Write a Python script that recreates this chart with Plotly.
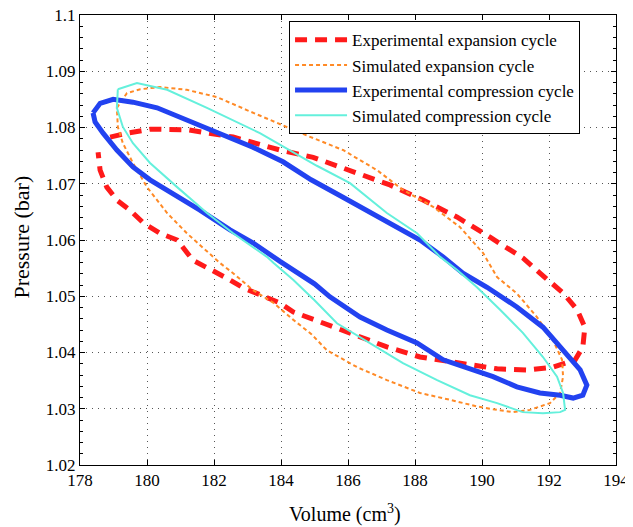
import plotly.graph_objects as go

# Experimental expansion cycle (red dashed)
exp_exp_v = [178.9, 179.4, 180.1, 181.2, 182.57, 183.97, 184.96, 186.06, 187.25, 188.24, 189.25, 190.24,
             191.22, 191.73, 192.42, 192.84, 193.07, 193.01, 192.78, 192.12, 191.34, 190.45, 189.34,
             188.15, 187.16, 186.06, 185.07, 184.37, 183.97, 183.37, 182.87, 182.39, 181.79, 181.37,
             180.9, 180.39, 179.9, 179.49, 179.1, 178.8, 178.6, 178.54]
exp_exp_p = [1.0783, 1.079, 1.0797, 1.0796, 1.0783, 1.0760, 1.0747, 1.0724, 1.0698, 1.0671, 1.0641, 1.0605,
             1.0568, 1.0541, 1.0506, 1.0476, 1.0445, 1.041, 1.0387, 1.0374, 1.0369, 1.0371, 1.0381,
             1.0392, 1.041, 1.0435, 1.0458, 1.0472, 1.0488, 1.0502, 1.0515, 1.0532, 1.0552, 1.0564,
             1.06, 1.0612, 1.063, 1.0653, 1.0671, 1.0694, 1.0724, 1.0756]

# Simulated expansion cycle (orange dotted)
sim_exp_v = [179.1, 179.4, 179.8, 180.39, 181.19, 182.09, 182.98, 183.88, 184.8, 185.85, 186.87, 187.64,
             188.54, 189.34, 190.03, 190.45, 191.04, 191.64, 192.12, 192.39, 192.42, 192.33, 192.03,
             191.43, 190.93, 190.45, 189.85, 189.04, 188.15, 187.16, 186.27, 185.37, 184.9, 184.37,
             183.78, 183.16, 182.57, 182.18, 181.97, 181.19, 180.6, 180.0, 179.58, 179.28, 179.13, 179.1]
sim_exp_p = [1.0835, 1.0861, 1.0868, 1.0872, 1.0867, 1.0854, 1.0831, 1.0808, 1.0785, 1.076, 1.0724, 1.0689,
             1.0659, 1.0623, 1.0577, 1.0534, 1.0505, 1.0463, 1.0422, 1.0387, 1.0357, 1.0328, 1.031,
             1.0298, 1.0294, 1.0298, 1.0304, 1.0316, 1.0328, 1.0351, 1.0374, 1.0404, 1.0433, 1.0458,
             1.0488, 1.0511, 1.0541, 1.0559, 1.057, 1.0612, 1.0648, 1.0694, 1.0737, 1.0772, 1.0801, 1.0835]

# Experimental compression cycle (blue solid, thick)
exp_comp_v = [178.39, 178.6, 178.99, 179.58, 180.3, 181.19, 182.18, 183.16, 184.06, 184.9, 185.85, 187.25,
              188.15, 188.84, 189.43, 190.15, 191.04, 191.82, 192.42, 192.93, 193.13, 193.01, 192.72,
              192.33, 191.73, 191.04, 190.33, 189.55, 188.84, 188.06, 187.16, 186.36, 185.46, 185.0,
              184.57, 183.97, 183.16, 182.48, 181.58, 180.78, 180.09, 179.58, 179.1, 178.69, 178.45, 178.39]
exp_comp_p = [1.0826, 1.0843, 1.085, 1.0845, 1.0835, 1.0813, 1.079, 1.0765, 1.0739, 1.0707, 1.0676, 1.063,
              1.06, 1.057, 1.0541, 1.0516, 1.0481, 1.0445, 1.0404, 1.0369, 1.0342, 1.0324, 1.0319,
              1.0324, 1.0328, 1.0339, 1.0357, 1.0372, 1.0387, 1.0417, 1.044, 1.0463, 1.0499, 1.0522,
              1.0538, 1.0562, 1.0595, 1.0618, 1.0653, 1.0683, 1.0707, 1.073, 1.076, 1.079, 1.081, 1.0826]

# Simulated compression cycle (aquamarine solid, thin)
sim_comp_v = [179.13, 179.7, 180.6, 181.79, 183.37, 184.27, 185.07, 186.06, 187.16, 188.06, 188.75, 189.25,
              189.85, 190.54, 191.22, 191.82, 192.24, 192.42, 192.48, 192.33, 191.82, 191.22, 190.45,
              189.64, 188.66, 187.64, 186.66, 185.67, 185.0, 184.37, 183.78, 183.58, 182.57, 181.79,
              180.9, 180.09, 179.58, 179.28, 179.1, 179.13]
sim_comp_p = [1.0868, 1.0879, 1.0867, 1.0835, 1.079, 1.076, 1.0732, 1.0701, 1.0648, 1.0612, 1.057, 1.0547,
              1.0516, 1.0476, 1.0435, 1.0392, 1.0357, 1.0328, 1.0298, 1.0294, 1.0292, 1.0294, 1.031,
              1.0324, 1.0351, 1.0381, 1.0417, 1.0452, 1.0493, 1.0529, 1.0559, 1.057, 1.0612, 1.0648,
              1.0694, 1.0737, 1.0772, 1.0801, 1.0835, 1.0868]

x_ticks = [178, 180, 182, 184, 186, 188, 190, 192, 194]
y_ticks = [1.02, 1.03, 1.04, 1.05, 1.06, 1.07, 1.08, 1.09, 1.1]
y_tick_labels = ["1.02", "1.03", "1.04", "1.05", "1.06", "1.07", "1.08", "1.09", "1.1"]

FONT = "Liberation Serif, Times New Roman, serif"

fig = go.Figure()
fig.add_trace(go.Scatter(x=exp_exp_v, y=exp_exp_p, mode="lines", name="Experimental expansion cycle",
                         line=dict(color="#ff1a1a", width=5, dash="12px,8px")))
fig.add_trace(go.Scatter(x=sim_exp_v, y=sim_exp_p, mode="lines", name="Simulated expansion cycle",
                         line=dict(color="#ff8a26", width=2, dash="4px,3px")))
fig.add_trace(go.Scatter(x=exp_comp_v, y=exp_comp_p, mode="lines", name="Experimental compression cycle",
                         line=dict(color="#2242f0", width=5)))
fig.add_trace(go.Scatter(x=sim_comp_v, y=sim_comp_p, mode="lines", name="Simulated compression cycle",
                         line=dict(color="#64f0dc", width=2)))

axis_common = dict(
    showline=True, linecolor="black", linewidth=1, mirror="ticks",
    ticks="inside", ticklen=5, tickcolor="black",
    showgrid=True, gridcolor="#555555", griddash="1px,5px", gridwidth=1,
    zeroline=False, automargin=False, ticklabeloverflow="allow",
    tickfont=dict(family=FONT, size=17, color="black"),
)

# page body has an 8px margin, so the figure is shifted accordingly
fig.update_layout(
    width=625, height=519,
    margin=dict(l=72, r=17, t=7, b=62),
    paper_bgcolor="white", plot_bgcolor="white",
    font=dict(family=FONT, color="black"),
    xaxis=dict(range=[178, 194], tickvals=x_ticks, **axis_common),
    yaxis=dict(range=[1.02, 1.1], tickvals=y_ticks, ticktext=y_tick_labels,
               minor=dict(dtick=0.002, ticks="inside", ticklen=3, tickcolor="black", showgrid=False),
               **axis_common),
    legend=dict(x=0.39, y=0.986, xanchor="left", yanchor="top",
                bordercolor="black", borderwidth=1, bgcolor="white", itemwidth=52,
                font=dict(family=FONT, size=17, color="black"), tracegroupgap=0),
    showlegend=True,
    annotations=[
        dict(text="Pressure (bar)", xref="paper", yref="paper", x=-0.110, y=0.5056,
             xanchor="center", yanchor="middle", textangle=-90, showarrow=False,
             font=dict(family=FONT, size=22, color="black")),
        dict(text="Volume (cm<sup>3</sup>)", xref="paper", yref="paper", x=0.494, y=-0.1067,
             xanchor="center", yanchor="middle", showarrow=False,
             font=dict(family=FONT, size=20, color="black")),
    ],
)

fig.write_html("out.html")
